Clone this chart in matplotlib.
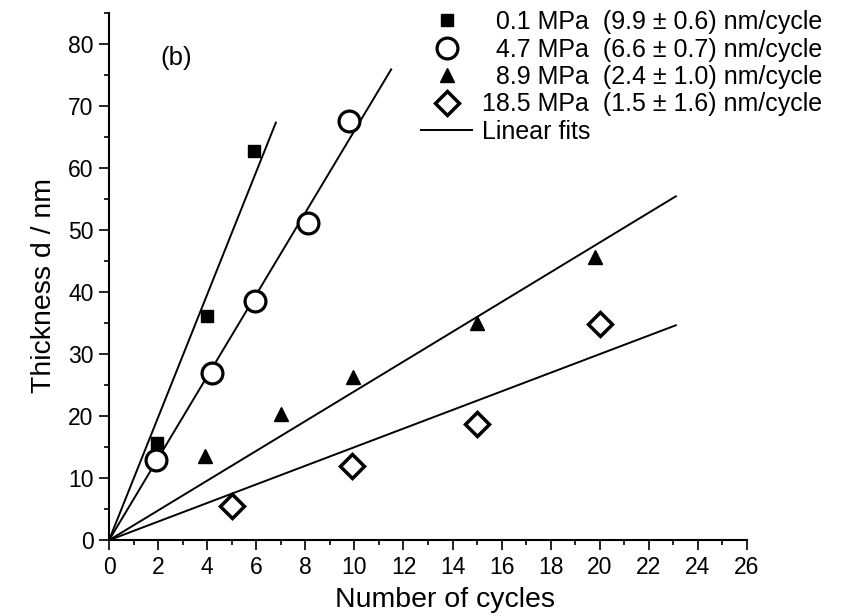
import matplotlib.pyplot as plt
from matplotlib.ticker import MultipleLocator
from matplotlib.lines import Line2D
import numpy as np

plt.rcParams['font.family'] = ['Liberation Sans', 'DejaVu Sans']

cycles_01 = [1.95, 4.0, 5.9]
thick_01 = [15.6, 36.1, 62.8]
cycles_47 = [1.9, 4.2, 5.95, 8.1, 9.8]
thick_47 = [12.9, 26.9, 38.5, 51.1, 67.6]
cycles_89 = [3.9, 7.0, 9.95, 15.0, 19.8]
thick_89 = [13.5, 20.3, 26.3, 35.0, 45.7]
cycles_185 = [5.0, 9.9, 15.0, 20.0]
thick_185 = [5.5, 11.9, 18.7, 34.9]

# linear fits through the origin: slope (nm/cycle) and end of drawn line
fit_slopes = [9.9, 6.6, 2.4, 1.5]
fit_ends = [6.8, 11.5, 23.1, 23.1]

pressures = ['\u20070.1 MPa', '\u20074.7 MPa', '\u20078.9 MPa', '18.5 MPa']
rates = ['(9.9 \u00b1 0.6) nm/cycle', '(6.6 \u00b1 0.7) nm/cycle',
         '(2.4 \u00b1 1.0) nm/cycle', '(1.5 \u00b1 1.6) nm/cycle']

fig = plt.figure(figsize=(8.45, 6.16), dpi=100)
ax = fig.add_axes([0.129, 0.123, 0.755, 0.856])

for slope, xend in zip(fit_slopes, fit_ends):
    xs = np.array([0, xend])
    ax.plot(xs, slope * xs, color='k', linewidth=1.4, zorder=1)

ax.plot(cycles_01, thick_01, 's', color='k', markersize=9, zorder=3)
ax.plot(cycles_47, thick_47, 'o', markerfacecolor='white', markeredgecolor='k',
        markersize=15, markeredgewidth=2.3, zorder=3)
ax.plot(cycles_89, thick_89, '^', color='k', markersize=10, zorder=3)
ax.plot(cycles_185, thick_185, 'D', markerfacecolor='white', markeredgecolor='k',
        markersize=12, markeredgewidth=2.5, zorder=3)

ax.set_xlim(0, 26)
ax.xaxis.set_major_locator(MultipleLocator(2))
ax.xaxis.set_minor_locator(MultipleLocator(1))
ax.yaxis.set_minor_locator(MultipleLocator(5))
ax.set_yticks(np.arange(0, 81, 10))
ax.set_ylim(0, 85)

ax.tick_params(which='major', direction='out', length=7, width=1.2, labelsize=16.5, pad=4)
ax.tick_params(which='minor', direction='out', length=3.5, width=1.2)
ax.spines['top'].set_visible(False)
ax.spines['right'].set_visible(False)
ax.spines['left'].set_linewidth(1.5)
ax.spines['bottom'].set_linewidth(1.5)

ax.set_xlabel('Number of cycles', fontsize=20.5, labelpad=6)
ax.set_ylabel('Thickness d / nm', fontsize=20.5, labelpad=8)
ax.xaxis.label.set_x(0.527)
ax.yaxis.label.set_y(0.484)

ax.text(2.75, 77.7, '(b)', fontsize=18.5, ha='center', va='center')

handles = [
    Line2D([], [], linestyle='none', marker='s', color='k', markersize=9),
    Line2D([], [], linestyle='none', marker='o', markerfacecolor='white',
           markeredgecolor='k', markersize=15, markeredgewidth=2.3),
    Line2D([], [], linestyle='none', marker='^', color='k', markersize=10),
    Line2D([], [], linestyle='none', marker='D', markerfacecolor='white',
           markeredgecolor='k', markersize=12, markeredgewidth=2.5),
    Line2D([], [], color='k', linewidth=1.4),
]
labels = [p + '  ' + r for p, r in zip(pressures, rates)] + ['Linear fits']
fig.legend(handles, labels, loc='upper left', bbox_to_anchor=(421 / 845, 1 - 10 / 616),
           frameon=False, fontsize=18, handlelength=2.05, handletextpad=0.4,
           labelspacing=0.14, borderpad=0, borderaxespad=0)

plt.savefig('out.png', dpi=100)
